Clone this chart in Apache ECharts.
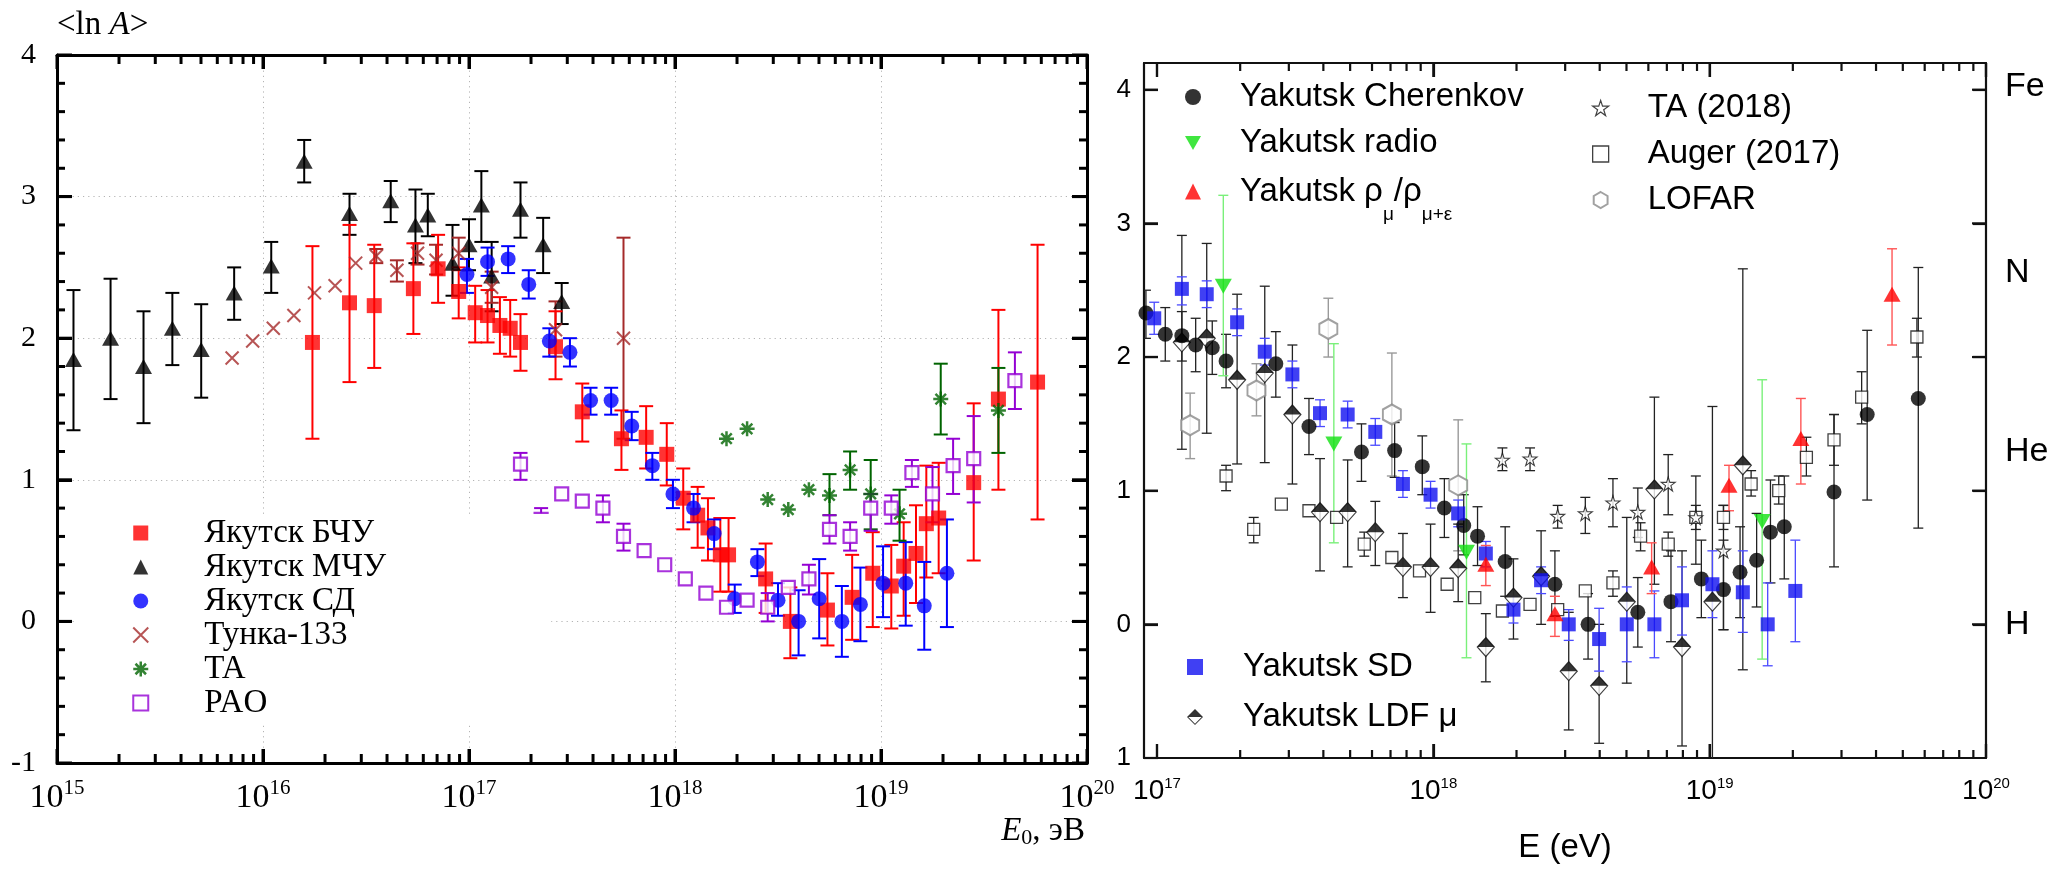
<!DOCTYPE html>
<html><head><meta charset="utf-8">
<script src="https://cdn.jsdelivr.net/npm/echarts@6/dist/echarts.min.js"></script>
<style>html,body{margin:0;padding:0;background:#fff}#c{width:2053px;height:870px}</style>
</head><body><div id="c"></div>
<script>
// ===== Data: [log10(E/eV), <ln A>, upper error, lower error] =====
// Left panel
const bchu = [
[16.24,1.97,2.65,1.29],[16.42,2.25,2.80,1.69],[16.54,2.23,2.66,1.79],[16.73,2.35,2.67,2.03],
[16.85,2.49,2.73,2.25],[16.95,2.33,2.50,2.14],[17.03,2.18,2.37,1.97],[17.09,2.16,2.34,1.97],
[17.15,2.09,2.29,1.89],[17.20,2.07,2.27,1.87],[17.25,1.97,2.17,1.77],[17.42,1.94,2.19,1.71],
[17.55,1.48,1.68,1.27],[17.74,1.29,1.49,1.07],[17.86,1.30,1.52,1.08],[17.96,1.18,1.40,0.96],
[18.04,0.87,1.08,0.65],[18.11,0.75,0.95,0.52],[18.16,0.66,0.87,0.43],[18.22,0.47,0.73,0.21],
[18.26,0.47,0.73,0.21],[18.44,0.30,0.55,0.06],[18.56,0.00,0.24,-0.26],[18.74,0.08,0.34,-0.17],
[18.86,0.17,0.47,-0.13],[18.96,0.34,0.63,-0.04],[19.05,0.25,0.54,-0.05],[19.11,0.39,0.70,0.04],
[19.17,0.48,0.82,0.13],[19.22,0.69,1.10,0.31],[19.28,0.73,1.12,0.34],[19.45,0.98,1.54,0.43],
[19.57,1.57,2.20,0.93],[19.76,1.69,2.66,0.72]
];
const mchu = [
[15.08,1.85,2.34,1.35],[15.26,2.00,2.42,1.57],[15.42,1.80,2.19,1.40],[15.56,2.07,2.32,1.81],
[15.70,1.92,2.24,1.58],[15.86,2.32,2.50,2.13],[16.04,2.51,2.68,2.32],[16.20,3.25,3.40,3.10],
[16.42,2.88,3.02,2.73],[16.62,2.97,3.11,2.82],[16.74,2.80,3.05,2.53],[16.80,2.87,3.02,2.72],
[16.92,2.53,2.80,2.30],[17.00,2.66,2.84,2.48],[17.06,2.94,3.18,2.68],[17.11,2.44,2.68,2.19],
[17.25,2.91,3.10,2.71],[17.36,2.66,2.85,2.46],[17.45,2.26,2.39,2.10]
];
const sdLeft = [
[16.99,2.45,2.56,2.32],[17.09,2.54,2.64,2.44],[17.19,2.56,2.65,2.46],[17.29,2.38,2.48,2.28],
[17.39,1.98,2.07,1.87],[17.49,1.90,2.00,1.80],[17.59,1.56,1.65,1.46],[17.69,1.56,1.65,1.46],
[17.79,1.38,1.48,1.28],[17.89,1.10,1.19,1.00],[17.99,0.90,1.00,0.80],[18.09,0.80,0.90,0.70],
[18.19,0.62,0.72,0.51],[18.29,0.16,0.26,0.06],[18.40,0.42,0.51,0.32],[18.50,0.15,0.27,0.04],
[18.60,0.00,0.22,-0.24],[18.70,0.16,0.44,-0.12],[18.81,0.00,0.25,-0.25],[18.90,0.12,0.38,-0.14],
[19.01,0.27,0.53,0.03],[19.12,0.27,0.56,-0.03],[19.21,0.11,0.42,-0.20],[19.32,0.34,0.72,-0.04]
];
const tunka = [
[15.85,1.86,null,null],[15.95,1.98,null,null],[16.05,2.07,null,null],[16.15,2.16,null,null],
[16.25,2.32,null,null],[16.35,2.37,null,null],[16.45,2.53,null,null],[16.55,2.58,2.63,2.53],
[16.65,2.48,2.55,2.40],[16.75,2.60,2.67,2.52],[16.84,2.55,2.66,2.45],[16.95,2.60,2.71,2.48],
[17.11,2.36,2.47,2.25],[17.42,2.06,2.26,1.87],[17.75,2.00,2.71,1.29]
];
const taLeft = [
[18.25,1.29,null,null],[18.35,1.36,null,null],[18.45,0.86,null,null],[18.55,0.79,null,null],
[18.65,0.93,null,null],[18.75,0.89,1.04,0.75],[18.85,1.07,1.20,0.93],[18.95,0.90,1.14,0.65],
[19.09,0.76,0.93,0.57],[19.29,1.57,1.82,1.32],[19.57,1.49,1.79,1.19]
];
const pao = [
[17.25,1.11,1.19,1.00],[17.35,0.72,0.80,0.64],[17.45,0.90,null,null],[17.55,0.85,null,null],
[17.65,0.80,0.89,0.70],[17.75,0.60,0.69,0.50],[17.85,0.50,null,null],[17.95,0.40,null,null],
[18.05,0.30,null,null],[18.15,0.20,null,null],[18.25,0.10,null,null],[18.35,0.15,null,null],
[18.45,0.10,0.20,0.00],[18.55,0.24,null,null],[18.65,0.30,0.40,0.19],[18.75,0.65,0.75,0.55],
[18.85,0.60,0.70,0.50],[18.95,0.80,0.90,0.64],[19.05,0.80,0.89,0.69],[19.15,1.05,1.14,0.95],
[19.25,0.90,1.09,0.70],[19.35,1.10,1.29,0.90],[19.45,1.15,1.45,0.84],[19.65,1.70,1.90,1.50]
];
// Right panel
const cherenkov = [
[16.96,2.33,2.50,2.14],[17.03,2.17,2.37,1.97],[17.09,2.16,2.34,1.97],[17.14,2.09,2.29,1.89],
[17.20,2.07,2.27,1.87],[17.25,1.97,2.17,1.77],[17.43,1.95,2.19,1.70],[17.55,1.48,1.69,1.27],
[17.74,1.29,1.50,1.07],[17.86,1.30,1.51,1.10],[17.96,1.18,1.41,0.97],[18.04,0.87,1.09,0.65],
[18.11,0.74,0.97,0.52],[18.16,0.66,0.88,0.44],[18.26,0.47,0.73,0.21],[18.44,0.30,0.55,0.06],
[18.56,0.00,0.23,-0.26],[18.74,0.09,0.35,-0.17],[18.86,0.17,0.55,-0.13],[18.97,0.34,0.63,0.05],
[19.05,0.26,0.63,-0.04],[19.11,0.39,0.73,0.05],[19.17,0.48,0.83,0.13],[19.22,0.69,1.08,0.31],
[19.27,0.73,1.11,0.34],[19.45,0.99,1.57,0.43],[19.57,1.57,2.20,0.93],[19.755,1.69,2.67,0.72]
];
const radio = [
[17.24,2.53,3.21,1.86],[17.64,1.35,2.10,0.61],[18.12,0.54,1.35,-0.25],[19.19,0.77,1.83,-0.26]
];
const rhoMu = [
[18.19,0.45,0.59,0.29],[18.44,0.08,0.21,-0.09],[18.79,0.43,0.61,0.23],
[19.07,1.04,1.19,0.85],[19.33,1.39,1.69,1.05],[19.66,2.47,2.81,2.09]
];
const ta2018 = [
[18.25,1.23,1.32,1.15],[18.35,1.24,1.32,1.15],[18.45,0.81,0.89,0.72],[18.55,0.83,0.95,0.68],
[18.65,0.91,1.09,0.73],[18.74,0.84,1.02,0.65],[18.85,1.05,1.27,0.82],[18.95,0.80,1.11,0.45],
[19.05,0.55,0.89,-0.04]
];
const auger2017 = [
[17.25,1.11,1.19,1.00],[17.35,0.71,0.80,0.61],[17.45,0.90,null,null],[17.55,0.85,null,null],
[17.65,0.80,null,null],[17.75,0.60,0.69,0.51],[17.85,0.50,null,null],[17.95,0.40,null,null],
[18.05,0.30,null,null],[18.15,0.20,null,null],[18.25,0.10,null,null],[18.35,0.15,null,null],
[18.45,0.11,null,null],[18.55,0.25,null,null],[18.65,0.31,0.40,0.21],[18.75,0.66,0.76,0.55],
[18.85,0.60,0.69,0.51],[18.95,0.80,0.89,0.71],[19.05,0.80,0.89,0.71],[19.15,1.05,1.15,0.96],
[19.25,1.00,1.11,0.90],[19.35,1.25,1.40,1.11],[19.45,1.38,1.57,1.19],[19.55,1.70,1.89,1.50],
[19.75,2.15,2.29,2.00]
];
const lofar = [
[17.12,1.49,1.73,1.24],[17.36,1.75,1.95,1.56],[17.62,2.21,2.44,2.00],[17.85,1.57,2.03,1.11],[18.09,1.04,1.53,0.55]
];
const sdRight = [
[16.99,2.29,2.41,2.17],[17.09,2.51,2.60,2.39],[17.18,2.47,2.57,2.37],[17.29,2.26,2.36,2.16],
[17.39,2.04,2.14,1.94],[17.49,1.87,1.97,1.77],[17.59,1.58,1.68,1.48],[17.69,1.57,1.67,1.47],
[17.79,1.44,1.54,1.34],[17.89,1.05,1.15,0.95],[17.99,0.97,1.07,0.87],[18.09,0.83,0.93,0.73],
[18.19,0.53,0.62,0.43],[18.29,0.11,0.21,0.01],[18.39,0.33,0.43,0.23],[18.49,0.00,0.11,-0.12],
[18.60,-0.11,0.12,-0.35],[18.70,0.00,0.28,-0.28],[18.80,0.00,0.25,-0.25],[18.90,0.18,0.43,-0.08],
[19.01,0.30,0.55,0.05],[19.12,0.24,0.55,-0.06],[19.21,0.00,0.31,-0.31],[19.31,0.25,0.63,-0.13]
];
const ldfMu = [
[17.09,2.11,2.91,1.31],[17.18,2.14,2.85,1.43],[17.29,1.83,2.47,1.20],[17.39,1.88,2.53,1.21],
[17.49,1.57,2.09,1.05],[17.59,0.84,1.24,0.40],[17.69,0.84,1.23,0.43],[17.79,0.69,0.92,0.44],
[17.89,0.43,0.68,0.20],[17.99,0.43,0.75,0.09],[18.09,0.42,0.75,0.17],[18.19,-0.17,0.08,-0.43],
[18.29,0.20,0.49,-0.11],[18.39,0.36,0.70,0.00],[18.49,-0.35,0.09,-0.79],[18.60,-0.46,0.00,-0.89],
[18.70,0.17,0.80,-0.44],[18.80,1.01,1.70,0.30],[18.90,-0.17,0.55,-0.91],[19.01,0.17,1.63,-1.50],
[19.12,1.19,2.66,-0.34]
];
// Tick labels
const leftXTicks = [15,16,17,18,19,20];
const rightXTicks = [17,18,19,20];
const rightYTicks = [-1,0,1,2,3,4];
const rightYTickText = ['1','0','1','2','3','4'];
const elementNames = ['Fe','N','He','H'];
const elementLnA = [4.02,2.63,1.29,0];

// ===== Styling helpers =====
const SERIF = '"Liberation Serif","DejaVu Serif",serif';
const SANS = '"Liberation Sans",Arial,sans-serif';
const X_PATH = 'path://M0,0L10,10M10,0L0,10';
const AST_PATH = 'path://M5,0L5,10M0,5L10,5M1.5,1.5L8.5,8.5M8.5,1.5L1.5,8.5';
const SQ_PATH = 'path://M0,0L10,0L10,10L0,10Z';
const DOWN_TRI = 'path://M0,0L10,0L5,8.66Z';
const STAR = 'path://M5,0L6.18,3.62L10,3.62L6.91,5.88L8.09,9.51L5,7.27L1.91,9.51L3.09,5.88L0,3.62L3.82,3.62Z';
const HEX = 'path://M4.33,0L8.66,2.5L8.66,7.5L4.33,10L0,7.5L0,2.5Z';
const LDF_ICON = 'path://M0,10L10,0L20,10Z M0,10L10,20L20,10L18.3,10L10,18.3L1.7,10Z';
const LDF_TOP = 'path://M0,10L10,0L20,10Z';

// frame tick positions (log minor ticks 2..9 x 10^n, linear minor ticks on <ln A>)
function minorLog(from, to, lo, hi) {
  const a = [];
  for (let n = from; n < to; n++) for (let k = 2; k <= 9; k++) {
    const v = n + Math.log10(k);
    if (v > lo + 0.01 && v < hi) a.push(v);
  }
  return a;
}
function linTicks(lo, hi, step) {
  const a = [];
  for (let v = lo; v <= hi + 1e-9; v += step) a.push(Math.round(v * 1000) / 1000);
  return a;
}
const minorLeft = minorLog(15, 20, 15, 20);
const minorRight = minorLog(16, 20, 16.953, 20);
const leftYMinor = linTicks(-1, 4, 0.2).filter(v => Math.abs(v - Math.round(v)) > 1e-6);

function errSeries(name, data, xi, yi, color, lw, cap) {
  return {
    type: 'custom', name: name, xAxisIndex: xi, yAxisIndex: yi, z: 3, silent: true, clip: true,
    data: data.filter(d => d[2] != null).map(d => [d[0], d[3], d[2]]),
    encode: {x: 0, y: [1, 2]},
    renderItem: function (params, api) {
      const x = api.value(0), lo = api.value(1), hi = api.value(2);
      const t = api.coord([x, hi]), b = api.coord([x, lo]);
      const st = {stroke: color, lineWidth: lw, fill: null};
      return {type: 'group', children: [
        {type: 'line', shape: {x1: t[0], y1: t[1], x2: b[0], y2: b[1]}, style: st},
        {type: 'line', shape: {x1: t[0] - cap, y1: t[1], x2: t[0] + cap, y2: t[1]}, style: st},
        {type: 'line', shape: {x1: b[0] - cap, y1: b[1], x2: b[0] + cap, y2: b[1]}, style: st}
      ]};
    }
  };
}
function ptSeries(name, data, xi, yi, symbol, size, itemStyle, extra) {
  return Object.assign({
    type: 'scatter', name: name, xAxisIndex: xi, yAxisIndex: yi, z: 3, silent: true, clip: true,
    data: data.map(d => [d[0], d[1]]), symbol: symbol, symbolSize: size, itemStyle: itemStyle
  }, extra || {});
}
// frame ticks on x (bottom+top) placed through the axis scale
function xTickSeries(name, xi, yi, vals, yLo, yHi, len, lw, color) {
  return {
    type: 'custom', name: name, xAxisIndex: xi, yAxisIndex: yi, z: 50, zlevel: 1, silent: true, clip: false,
    data: vals.map(v => [v, yLo, yHi]), encode: {x: 0, y: [1, 2]},
    renderItem: function (params, api) {
      const b = api.coord([api.value(0), api.value(1)]), t = api.coord([api.value(0), api.value(2)]);
      const st = {stroke: color, lineWidth: lw, fill: null};
      return {type: 'group', children: [
        {type: 'line', shape: {x1: b[0], y1: b[1], x2: b[0], y2: b[1] - len}, style: st},
        {type: 'line', shape: {x1: t[0], y1: t[1], x2: t[0], y2: t[1] + len}, style: st}
      ]};
    }
  };
}
// frame ticks on y (left+right)
function yTickSeries(name, xi, yi, vals, xLo, xHi, len, lw, color) {
  return {
    type: 'custom', name: name, xAxisIndex: xi, yAxisIndex: yi, z: 50, zlevel: 1, silent: true, clip: false,
    data: vals.map(v => [xLo, xHi, v]), encode: {x: [0, 1], y: 2},
    renderItem: function (params, api) {
      const l = api.coord([api.value(0), api.value(2)]), r = api.coord([api.value(1), api.value(2)]);
      const st = {stroke: color, lineWidth: lw, fill: null};
      return {type: 'group', children: [
        {type: 'line', shape: {x1: l[0], y1: l[1], x2: l[0] + len, y2: l[1]}, style: st},
        {type: 'line', shape: {x1: r[0], y1: r[1], x2: r[0] - len, y2: r[1]}, style: st}
      ]};
    }
  };
}

// ===== Axes =====
const leftRich = {
  b: {fontFamily: SERIF, fontSize: 34, lineHeight: 40, color: '#000'},
  s: {fontFamily: SERIF, fontSize: 21, lineHeight: 22, verticalAlign: 'top', color: '#000'}
};
const rightRich = {
  b: {fontFamily: SANS, fontSize: 28, lineHeight: 30, color: '#000'},
  s: {fontFamily: SANS, fontSize: 15, lineHeight: 10, verticalAlign: 'top', color: '#000'}
};
const LAX = {color: '#000', width: 3};
const RAX = {color: '#111', width: 2.2};
const LTICK = {width: 3, color: '#000'};
const RTICK = {width: 2.2, color: '#111'};
const GRIDLINE = {color: '#b4b4b4', width: 1, type: [1.2, 4]};

const xAxis = [
  { // 0 left bottom
    type: 'value', gridIndex: 0, position: 'bottom', min: 15, max: 20, interval: 1,
    axisLine: {show: true, onZero: false, lineStyle: LAX},
    axisTick: {show: true, inside: true, length: 14, lineStyle: LTICK},
    axisLabel: {margin: 15, formatter: v => '{b|10}{s|' + v + '}', rich: leftRich},
    splitLine: {show: true, lineStyle: GRIDLINE},
    name: '{i|E}{sub|0}{n|, эВ}', nameLocation: 'end', nameGap: -2, nameMoveOverlap: false,
    nameTextStyle: {align: 'right', verticalAlign: 'top', padding: [50, 0, 0, 0],
      rich: {
        i: {fontFamily: SERIF, fontSize: 33, fontStyle: 'italic', lineHeight: 36, color: '#000'},
        sub: {fontFamily: SERIF, fontSize: 22, lineHeight: 22, verticalAlign: 'bottom', color: '#000'},
        n: {fontFamily: SERIF, fontSize: 33, lineHeight: 36, color: '#000'}
      }}
  },
  { // 1 left top
    type: 'value', gridIndex: 0, position: 'top', min: 15, max: 20, interval: 1,
    axisLine: {show: true, onZero: false, lineStyle: LAX}, axisLabel: {show: false}, splitLine: {show: false},
    axisTick: {show: true, inside: true, length: 14, lineStyle: LTICK}
  },
  { // 2 right bottom
    type: 'value', gridIndex: 1, position: 'bottom', min: 16.953, max: 20,
    axisLine: {show: true, onZero: false, lineStyle: RAX},
    axisTick: {show: true, inside: true, length: 14, customValues: rightXTicks, lineStyle: RTICK},
    axisLabel: {margin: 18, customValues: rightXTicks, formatter: v => '{b|10}{s|' + v + '}', rich: rightRich},
    splitLine: {show: false},
    name: 'E (eV)', nameLocation: 'middle', nameGap: 73, nameMoveOverlap: false,
    nameTextStyle: {fontFamily: SANS, fontSize: 33, color: '#000'}
  },
  { // 3 right top
    type: 'value', gridIndex: 1, position: 'top', min: 16.953, max: 20,
    axisLine: {show: true, onZero: false, lineStyle: RAX}, axisLabel: {show: false}, splitLine: {show: false},
    axisTick: {show: true, inside: true, length: 14, customValues: rightXTicks, lineStyle: RTICK}
  }
];

const yAxis = [
  { // 0 left panel, left
    type: 'value', gridIndex: 0, position: 'left', min: -1, max: 4, interval: 1,
    axisLine: {show: true, onZero: false, lineStyle: LAX},
    axisTick: {show: true, inside: true, length: 15, lineStyle: LTICK},
    axisLabel: {margin: 21, fontFamily: SERIF, fontSize: 30, color: '#000'},
    splitLine: {show: true, lineStyle: GRIDLINE},
    name: '<ln {i|A}>', nameLocation: 'end', nameGap: 30, nameMoveOverlap: false,
    nameTextStyle: {align: 'left', verticalAlign: 'middle', fontFamily: SERIF, fontSize: 33, color: '#000',
      rich: {i: {fontFamily: SERIF, fontSize: 33, fontStyle: 'italic', color: '#000'}}}
  },
  { // 1 left panel, right
    type: 'value', gridIndex: 0, position: 'right', min: -1, max: 4, interval: 1,
    axisLine: {show: true, onZero: false, lineStyle: LAX},
    axisTick: {show: true, inside: true, length: 15, lineStyle: LTICK},
    axisLabel: {show: false}, splitLine: {show: false}
  },
  { // 2 right panel, left
    type: 'value', gridIndex: 1, position: 'left', min: -1, max: 4.2,
    axisLine: {show: true, onZero: false, lineStyle: RAX},
    axisTick: {show: true, inside: true, length: 14, customValues: rightYTicks, lineStyle: RTICK},
    axisLabel: {margin: 13, customValues: rightYTicks, fontFamily: SANS, fontSize: 26, color: '#000',
      formatter: v => rightYTickText[rightYTicks.indexOf(Math.round(v))]},
    splitLine: {show: false}
  },
  { // 3 right panel, right (elements)
    type: 'value', gridIndex: 1, position: 'right', min: -1, max: 4.2,
    axisLine: {show: true, onZero: false, lineStyle: RAX},
    axisTick: {show: true, inside: true, length: 13, customValues: [0, 1, 2, 3, 4], lineStyle: RTICK},
    axisLabel: {margin: 19, customValues: elementLnA, fontFamily: SANS, fontSize: 34, color: '#000',
      formatter: v => elementNames[elementLnA.indexOf(v)]},
    splitLine: {show: false}
  }
];

// ===== Series =====
const RED = '#ff0000', BLUE = '#0000ff', BROWN = '#a52a2a', DKGREEN = '#006400', PURPLE = '#9400d3';
const series = [
  // frame ticks
  xTickSeries('tickLx', 0, 0, leftXTicks, -1, 4, 14, 3, '#000'),
  xTickSeries('minorLx', 0, 0, minorLeft, -1, 4, 9, 3, '#000'),
  yTickSeries('tickLy', 0, 0, linTicks(-1, 4, 1), 15, 20, 15, 3, '#000'),
  yTickSeries('minorLy', 0, 0, leftYMinor, 15, 20, 8, 3, '#000'),
  xTickSeries('tickRx', 2, 2, rightXTicks, -1, 4.2, 14, 2.2, '#111'),
  xTickSeries('minorRx', 2, 2, minorRight, -1, 4.2, 8, 2.2, '#111'),
  yTickSeries('tickRy', 2, 2, linTicks(0, 4, 1), 16.953, 20, 14, 2.2, '#111'),
  // left panel
  errSeries('e1', mchu, 0, 0, '#000', 2, 7),
  ptSeries('Якутск МЧУ', mchu, 0, 0, 'triangle', [17, 15], {color: '#000'}),
  errSeries('e2', tunka, 0, 0, BROWN, 2, 7),
  ptSeries('Тунка-133', tunka, 0, 0, X_PATH, 13, {color: 'rgba(0,0,0,0)', borderColor: BROWN, borderWidth: 2}),
  errSeries('e3', bchu, 0, 0, RED, 2, 7),
  ptSeries('Якутск БЧУ', bchu, 0, 0, 'rect', 15, {color: RED}),
  errSeries('e4', sdLeft, 0, 0, BLUE, 2, 7),
  ptSeries('Якутск СД', sdLeft, 0, 0, 'circle', 15, {color: BLUE}),
  errSeries('e5', taLeft, 0, 0, DKGREEN, 2, 7),
  ptSeries('TA', taLeft, 0, 0, AST_PATH, 15, {color: 'rgba(0,0,0,0)', borderColor: DKGREEN, borderWidth: 2.5}),
  errSeries('e6', pao, 0, 0, PURPLE, 2, 7),
  ptSeries('PAO', pao, 0, 0, SQ_PATH, 13, {color: '#fff', borderColor: PURPLE, borderWidth: 2.2}),
  // right panel
  errSeries('r1', lofar, 2, 2, '#9a9a9a', 1.4, 5),
  ptSeries('LOFAR', lofar, 2, 2, HEX, [18, 20], {color: '#fff', borderColor: '#8a8a8a', borderWidth: 2}),
  errSeries('r2', auger2017, 2, 2, '#222', 1.3, 5),
  ptSeries('Auger (2017)', auger2017, 2, 2, SQ_PATH, 12, {color: '#fff', borderColor: '#111', borderWidth: 1.3}),
  errSeries('r3', ta2018, 2, 2, '#222', 1.3, 5),
  ptSeries('TA (2018)', ta2018, 2, 2, STAR, 14, {color: '#fff', borderColor: '#111', borderWidth: 1.1}),
  errSeries('r4', ldfMu, 2, 2, '#222', 1.3, 5),
  ptSeries('ldf-bg', ldfMu, 2, 2, 'diamond', [17, 19], {color: '#fff', borderColor: '#111', borderWidth: 1.2}),
  ptSeries('Yakutsk LDF μ', ldfMu, 2, 2, LDF_TOP, [17, 9.5], {color: '#000'}, {symbolOffset: [0, -4.75]}),
  errSeries('r5', cherenkov, 2, 2, '#222', 1.3, 5),
  ptSeries('Yakutsk Cherenkov', cherenkov, 2, 2, 'circle', 15, {color: '#000'}),
  errSeries('r6', sdRight, 2, 2, '#4a4aff', 1.3, 5),
  ptSeries('Yakutsk SD', sdRight, 2, 2, 'rect', 14, {color: '#1010f0'}),
  errSeries('r7', radio, 2, 2, '#7af07a', 1.4, 5),
  ptSeries('Yakutsk radio', radio, 2, 2, DOWN_TRI, [17, 15], {color: '#10e010'}),
  errSeries('r8', rhoMu, 2, 2, '#ff5555', 1.4, 5),
  ptSeries('Yakutsk ρμ/ρμ+ε', rhoMu, 2, 2, 'triangle', [17, 15], {color: RED})
];

// ===== Legends =====
const rightText = {fontFamily: SANS, fontSize: 33, color: '#000'};
const legend = [
  {
    orient: 'vertical', left: 77, top: 514, padding: [2, 165, 2, 55], backgroundColor: '#fff',
    itemWidth: 15, itemHeight: 15, itemGap: 0, selectedMode: false, z: 10,
    textStyle: {fontFamily: SERIF, fontSize: 33, lineHeight: 34, color: '#000', padding: [0, 0, 0, 51]},
    data: [
      {name: 'Якутск БЧУ', icon: 'rect', itemStyle: {color: RED}},
      {name: 'Якутск МЧУ', icon: 'triangle', itemStyle: {color: '#000'}},
      {name: 'Якутск СД', icon: 'circle', itemStyle: {color: BLUE}},
      {name: 'Тунка-133', icon: X_PATH, itemStyle: {color: 'rgba(0,0,0,0)', borderColor: BROWN, borderWidth: 2}},
      {name: 'TA', icon: AST_PATH, itemStyle: {color: 'rgba(0,0,0,0)', borderColor: DKGREEN, borderWidth: 2.5}},
      {name: 'PAO', icon: SQ_PATH, itemStyle: {color: '#fff', borderColor: PURPLE, borderWidth: 2}}
    ]
  },
  {
    orient: 'vertical', left: 1185, top: 74, padding: 0, itemWidth: 16, itemHeight: 16, itemGap: 0, selectedMode: false, z: 10,
    textStyle: Object.assign({lineHeight: 46, padding: [0, 0, 0, 34]}, rightText),
    data: [
      {name: 'Yakutsk Cherenkov', icon: 'circle', itemStyle: {color: '#000'}},
      {name: 'Yakutsk radio', icon: DOWN_TRI, itemStyle: {color: '#10e010'}}
    ]
  },
  {
    orient: 'vertical', left: 1185, top: 159, padding: 0, itemWidth: 16, itemHeight: 16, itemGap: 0, selectedMode: false, z: 10,
    formatter: () => 'Yakutsk ρ{sub|μ}/ρ{sub|μ+ε}',
    textStyle: Object.assign({lineHeight: 46, padding: [0, 0, 0, 34],
      rich: {sub: {fontFamily: SANS, fontSize: 19, lineHeight: 20, padding: [46, 0, 0, 0], color: '#000'}}}, rightText),
    data: [{name: 'Yakutsk ρμ/ρμ+ε', icon: 'triangle', itemStyle: {color: RED}}]
  },
  {
    orient: 'vertical', left: 1592, top: 85, padding: 0, itemWidth: 16, itemHeight: 16, itemGap: 0, selectedMode: false, z: 10,
    textStyle: Object.assign({lineHeight: 46, padding: [0, 0, 0, 34]}, rightText),
    data: [
      {name: 'TA (2018)', icon: STAR, itemStyle: {color: '#fff', borderColor: '#111', borderWidth: 1.2}},
      {name: 'Auger (2017)', icon: SQ_PATH, itemStyle: {color: '#fff', borderColor: '#111', borderWidth: 1.3}},
      {name: 'LOFAR', icon: HEX, itemStyle: {color: '#fff', borderColor: '#8a8a8a', borderWidth: 2}}
    ]
  },
  {
    orient: 'vertical', left: 1187, top: 642, padding: 0, itemWidth: 16, itemHeight: 16, itemGap: 0, selectedMode: false, z: 10,
    textStyle: Object.assign({lineHeight: 50, padding: [0, 0, 0, 35]}, rightText),
    data: [
      {name: 'Yakutsk SD', icon: 'rect', itemStyle: {color: '#1010f0'}},
      {name: 'Yakutsk LDF μ', icon: LDF_ICON, itemStyle: {color: '#000'}}
    ]
  }
];

const chart = echarts.init(document.getElementById('c'), null, {renderer: 'canvas'});
chart.setOption({
  animation: false,
  backgroundColor: '#fff',
  grid: [
    {left: 57, right: 966, top: 55, bottom: 107},
    {left: 1144, right: 67, top: 63, bottom: 112}
  ],
  xAxis: xAxis, yAxis: yAxis, legend: legend, series: series
});
</script></body></html>
